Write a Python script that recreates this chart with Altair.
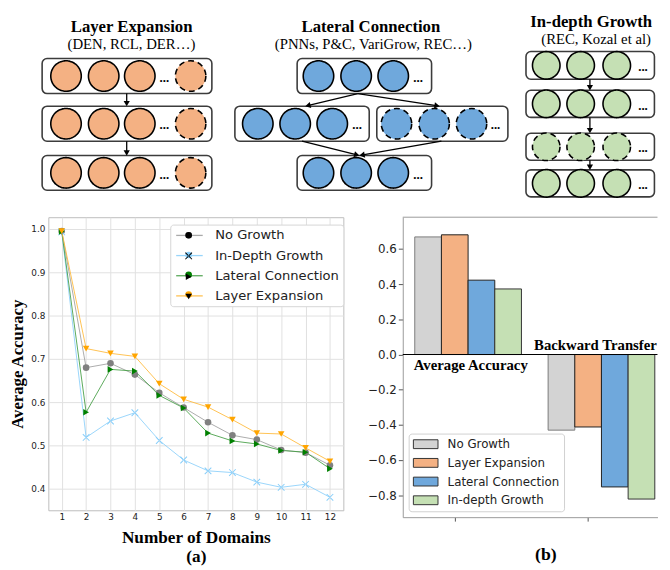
import math
import altair as alt
import pandas as pd

# ================= (a) Average accuracy vs. number of domains =================
domains = list(range(1, 13))
series_names = ["No Growth", "In-Depth Growth", "Lateral Connection", "Layer Expansion"]
acc_no_growth = [0.995, 0.680, 0.690, 0.664, 0.622, 0.588, 0.554, 0.524, 0.514, 0.490, 0.484, 0.455]
acc_in_depth = [0.993, 0.519, 0.557, 0.576, 0.512, 0.467, 0.442, 0.438, 0.416, 0.404, 0.411, 0.381]
acc_lateral = [0.994, 0.577, 0.676, 0.672, 0.616, 0.587, 0.529, 0.511, 0.504, 0.489, 0.485, 0.447]
acc_layer_exp = [0.995, 0.724, 0.713, 0.706, 0.643, 0.607, 0.589, 0.560, 0.529, 0.527, 0.495, 0.464]
y_ticks_a = [0.4, 0.5, 0.6, 0.7, 0.8, 0.9, 1.0]

line_colors = ["#9c9c9c", "#87cefa", "#3d9a3d", "#ffb733"]
marker_colors = ["#808080", "#87cefa", "#008000", "#ffa500"]
X_MARK = ("M-0.894,-1.106L1.106,0.894L0.894,1.106L-1.106,-0.894Z"
          "M-0.894,1.106L1.106,-0.894L0.894,-1.106L-1.106,0.894Z")
marker_shapes = ["circle", X_MARK, "triangle-right", "triangle-down"]

# ================= (b) Average accuracy / backward transfer =================
bar_groups = ["Average Accuracy", "Backward Transfer"]
bar_methods = ["No Growth", "Layer Expansion", "Lateral Connection", "In-depth Growth"]
bar_avg_acc = [0.669, 0.681, 0.423, 0.373]
bar_bwt = [-0.430, -0.412, -0.753, -0.822]
y_ticks_b = [-0.8, -0.6, -0.4, -0.2, 0.0, 0.2, 0.4, 0.6]
bar_colors = ["#d3d3d3", "#f4b183", "#6fa8dc", "#c5e0b4"]
bar_edges = ["#7a7a7a", "#222222", "#222222", "#333333"]
bar_width = 0.2
group_label_x = [0.12, 1.055]
group_label_y = [-0.061, 0.053]

# ================= schematic (top) =================
panel_titles = ["Layer Expansion", "Lateral Connection", "In-depth Growth"]
panel_subtitles = ["(DEN, RCL, DER…)", "(PNNs, P&C, VariGrow, REC…)", "(REC, Kozal et al)"]
panel_fill = ["#f4b183", "#6fa8dc", "#c5e0b4"]
panel_node_diam = [31, 31, 28]
title_x = [131.7, 375, 599]
title_y = [22.5, 22.5, 17]
subtitle_x = [131.5, 377.5, 604]
subtitle_y = [40.5, 40.5, 35]

box_panel = [0, 0, 0, 1, 1, 1, 1, 2, 2, 2, 2]
box_x0 = [40.7, 40.7, 40.7, 300, 236.7, 381, 300, 532.7, 532.7, 532.7, 532.7]
box_x1 = [213.3, 213.3, 213.3, 436.7, 373.3, 514.3, 436.7, 663.3, 663.3, 663.3, 663.3]
box_y0 = [50, 100, 151.7, 50, 100, 100, 151.7, 42.7, 83.3, 128.3, 166.7]
box_y1 = [86.7, 136.7, 188, 86.7, 136.7, 136.7, 188, 71.7, 111.7, 156.7, 195]
box_dashed = [0, 0, 0, 0, 0, 1, 0, 0, 0, 1, 0]
box_nodes_x = [
    [65, 103.3, 140, 191.7], [65, 103.3, 140, 191.7], [65, 103.3, 140, 191.7],
    [321.7, 360, 397.7], [260, 298, 335.7], [401, 439.3, 477.3], [321.7, 360, 397.7],
    [553.3, 588.3, 625], [553.3, 588.3, 625], [553.3, 588.3, 625], [553.3, 588.3, 625],
]
box_nodes_dashed = [
    [0, 0, 0, 1], [0, 0, 0, 1], [0, 0, 0, 1],
    [0, 0, 0], [0, 0, 0], [1, 1, 1], [0, 0, 0],
    [0, 0, 0], [0, 0, 0], [1, 1, 1], [0, 0, 0],
]
box_dots_x = [165, 165, 165, 423, 361, 501.7, 423, 651.7, 651.7, 651.7, 651.7]
arrow_x0 = [126.7, 126.7, 361.7, 361.7, 305, 446.7, 597.7, 597.7, 597.7]
arrow_y0 = [86.7, 136.7, 86.7, 86.7, 136.7, 136.7, 71.7, 111.7, 156.7]
arrow_x1 = [126.7, 126.7, 308.3, 445, 363.3, 363.3, 597.7, 597.7, 597.7]
arrow_y1 = [100, 151.7, 100, 100, 151.7, 151.7, 83.3, 128.3, 166.7]

SERIF = "Liberation Serif"
SANS = "DejaVu Sans"
dash_scale = alt.Scale(domain=["solid", "dashed"], range=[[1, 0], [6, 4]])
NONPOS = ["color", "fill", "stroke", "shape", "size", "strokeDash", "opacity"]

# ---------- schematic tables ----------
df_boxes = pd.DataFrame({
    "x0": box_x0, "x1": box_x1, "y0": box_y0, "y1": box_y1,
    "dash": ["dashed" if d else "solid" for d in box_dashed],
})
node_rows, dot_rows = [], []
for i, p in enumerate(box_panel):
    cy = (box_y0[i] + box_y1[i]) / 2
    for nx, nd in zip(box_nodes_x[i], box_nodes_dashed[i]):
        node_rows.append({"x": nx, "y": cy, "fill": panel_fill[p],
                          "sz": panel_node_diam[p] ** 2,
                          "dash": "dashed" if nd else "solid"})
    dot_rows.append({"x": box_dots_x[i], "y": cy + 6})
df_nodes = pd.DataFrame(node_rows)
df_dots = pd.DataFrame(dot_rows)

arrow_rows = []
for xs, ys, xe, ye in zip(arrow_x0, arrow_y0, arrow_x1, arrow_y1):
    dx, dy = xe - xs, ye - ys
    L = math.hypot(dx, dy)
    ux, uy = dx / L, dy / L
    arrow_rows.append({
        "xs": xs, "ys": ys, "xe": xe - ux * 3.5, "ye": ye - uy * 3.5,
        "hx": xe - ux * 2.7, "hy": ye - uy * 2.7,
        "ang": math.degrees(math.atan2(ux, -uy)) % 360,
    })
df_arrows = pd.DataFrame(arrow_rows)
df_titles = pd.DataFrame({"x": title_x, "y": title_y, "t": panel_titles})
df_subtitles = pd.DataFrame({"x": subtitle_x, "y": subtitle_y, "t": panel_subtitles})

# schematic panel: its origin is aligned with the left edge of plot (a)
D_X0, D_X1 = 47, 670
D_Y0, D_Y1, D_H = 4, 205, 195
dsx = alt.Scale(domain=[D_X0, D_X1], nice=False, zero=False)
dsy = alt.Scale(domain=[D_Y0, D_Y1], nice=False, zero=False, reverse=True)

boxes = alt.Chart(df_boxes).mark_rect(
    cornerRadius=5, fill="white", stroke="#3c3c3c", strokeWidth=1.6
).encode(
    x=alt.X("x0:Q", scale=dsx, axis=None), x2="x1:Q",
    y=alt.Y("y0:Q", scale=dsy, axis=None), y2="y1:Q",
    strokeDash=alt.StrokeDash("dash:N", scale=dash_scale, legend=None),
)
arrow_lines = alt.Chart(df_arrows).mark_rule(color="black", strokeWidth=1.3).encode(
    x=alt.X("xs:Q", scale=dsx, axis=None), y=alt.Y("ys:Q", scale=dsy, axis=None),
    x2="xe:Q", y2="ye:Q",
)
arrow_heads = alt.Chart(df_arrows).mark_point(
    shape="triangle-up", filled=True, color="black", size=40, opacity=1
).encode(
    x=alt.X("hx:Q", scale=dsx, axis=None), y=alt.Y("hy:Q", scale=dsy, axis=None),
    angle=alt.Angle("ang:Q", scale=None),
)
nodes = alt.Chart(df_nodes).mark_point(
    shape="circle", filled=True, stroke="black", strokeWidth=1.6, opacity=1
).encode(
    x=alt.X("x:Q", scale=dsx, axis=None), y=alt.Y("y:Q", scale=dsy, axis=None),
    fill=alt.Fill("fill:N", scale=None, legend=None),
    size=alt.Size("sz:Q", scale=None, legend=None),
    strokeDash=alt.StrokeDash("dash:N", scale=dash_scale, legend=None),
)
dots = alt.Chart(df_dots).mark_text(
    text="...", font=SERIF, fontWeight="bold", fontSize=13, baseline="alphabetic", color="black"
).encode(x=alt.X("x:Q", scale=dsx, axis=None), y=alt.Y("y:Q", scale=dsy, axis=None))
titles = alt.Chart(df_titles).mark_text(
    font=SERIF, fontWeight="bold", fontSize=17, baseline="alphabetic", color="black"
).encode(x=alt.X("x:Q", scale=dsx, axis=None), y=alt.Y("y:Q", scale=dsy, axis=None), text="t:N")
subtitles = alt.Chart(df_subtitles).mark_text(
    font=SERIF, fontSize=15, baseline="alphabetic", color="black"
).encode(x=alt.X("x:Q", scale=dsx, axis=None), y=alt.Y("y:Q", scale=dsy, axis=None), text="t:N")

diagram = alt.layer(boxes, arrow_lines, arrow_heads, nodes, dots, titles, subtitles).properties(
    width=D_X1 - D_X0, height=D_H, view=alt.ViewBackground(stroke="transparent")
)

# ---------- (a) line chart ----------
rows = []
for name, vals in zip(series_names, [acc_no_growth, acc_in_depth, acc_lateral, acc_layer_exp]):
    for d, v in zip(domains, vals):
        rows.append({"domain": d, "acc": v, "series": name, "series_m": name})
df_a = pd.DataFrame(rows)

A_W, A_H = 300, 298
xa = alt.X(
    "domain:Q",
    scale=alt.Scale(domain=[0.45, 12.55], nice=False, zero=False),
    axis=alt.Axis(
        values=domains, format="d", grid=True, gridColor="#e0e0e0", ticks=False, tickSize=0,
        domain=False, labelFont=SANS, labelFontSize=9, labelColor="#222", labelPadding=2.5,
        labelFlush=False, title=["Number of Domains", "(a)"], titleFont=SERIF,
        titleFontWeight="bold", titleFontSize=17.5, titleColor="black", titlePadding=7,
        titleLineHeight=20,
    ),
)
ya = alt.Y(
    "acc:Q",
    scale=alt.Scale(domain=[0.351, 1.027], nice=False, zero=False),
    axis=alt.Axis(
        values=y_ticks_a, format=".1f", grid=True, gridColor="#e0e0e0", ticks=False, tickSize=0,
        domain=False, labelFont=SANS, labelFontSize=9, labelColor="#222", labelPadding=3.5,
        labelFlush=False, title="Average Accuracy", titleFont=SERIF, titleFontWeight="bold",
        titleFontSize=17, titleColor="black", titlePadding=4.2,
    ),
)
# line-segment legend (carries the labels and the box)
leg_lines = alt.Legend(
    title=None, orient="none", legendX=124, legendY=7.5,
    symbolType="M-0.833,0L3.667,0", symbolSize=144, symbolStrokeWidth=1.3,
    labelFont=SANS, labelFontSize=13.3, labelColor="#222", labelOffset=27.7,
    rowPadding=6.5, padding=4, fillColor="white", strokeColor="#d5d5d5",
    cornerRadius=3, zindex=1,
)
# marker legend drawn on top of the line segments (no labels of its own)
leg_marks = alt.Legend(
    title=None, orient="none", legendX=135.2, legendY=10.8, symbolSize=45,
    symbolStrokeWidth=0, symbolOpacity=1, labelExpr="''", labelFontSize=1,
    labelOffset=0, rowPadding=13.1, padding=4, zindex=2,
)
lines = alt.Chart(df_a).mark_line(strokeWidth=1, opacity=0.85).encode(
    x=xa, y=ya,
    stroke=alt.Stroke("series:N", sort=series_names, scale=alt.Scale(range=line_colors), legend=leg_lines),
)
points = alt.Chart(df_a).mark_point(filled=True, size=45, opacity=1).encode(
    x=xa, y=ya,
    color=alt.Color("series_m:N", sort=series_names, scale=alt.Scale(range=marker_colors), legend=leg_marks),
    shape=alt.Shape("series_m:N", sort=series_names, scale=alt.Scale(range=marker_shapes), legend=leg_marks),
)
line_chart = alt.layer(lines, points).properties(
    width=A_W, height=A_H, view=alt.ViewBackground(stroke="#bdbdbd", strokeWidth=1)
)

# ---------- (b) bar chart ----------
bar_rows = []
for gi, (g, vals) in enumerate(zip(bar_groups, [bar_avg_acc, bar_bwt])):
    for mj, (m, v) in enumerate(zip(bar_methods, vals)):
        x0 = gi + bar_width * mj - 1.5 * bar_width
        bar_rows.append({"group": g, "method": m, "val": v, "base": 0.0,
                         "x0": x0, "x1": x0 + bar_width, "edge": bar_edges[mj]})
df_b = pd.DataFrame(bar_rows)
df_lbl = pd.DataFrame({"tx": group_label_x, "ty": group_label_y, "label": bar_groups})

B_W, B_H = 259, 305
xb_scale = alt.Scale(domain=[-0.39, 1.52], nice=False, zero=False)
yb_scale = alt.Scale(domain=[-0.925, 0.781], nice=False, zero=False)
bars = alt.Chart(df_b).mark_bar(strokeWidth=1).encode(
    x=alt.X("x0:Q", scale=xb_scale, axis=alt.Axis(
        values=[0, 1], labels=False, tickSize=4, tickColor="#555", domainColor="#999",
        grid=False, title="(b)", titleFont=SERIF, titleFontWeight="bold", titleFontSize=18,
        titleColor="black", titlePadding=25, titleX=145, titleAlign="center")),
    x2="x1:Q",
    y=alt.Y("val:Q", scale=yb_scale, axis=alt.Axis(
        values=y_ticks_b, format=".1f", grid=False, tickSize=4.5, tickColor="#555",
        domainColor="#999", labelFont=SANS, labelFontSize=12, labelColor="#222",
        labelPadding=2, labelFlush=False, title=None)),
    y2="base:Q",
    fill=alt.Fill("method:N", sort=bar_methods, scale=alt.Scale(domain=bar_methods, range=bar_colors),
                  legend=alt.Legend(
                      title=None, orient="bottom-left", offset=6, padding=4.3,
                      symbolType="M-1,-0.75L3.17,-0.75L3.17,0.75L-1,0.75Z", symbolSize=144,
                      symbolStrokeColor="#333", symbolStrokeWidth=1, labelFont=SANS,
                      labelFontSize=12, labelColor="#222", labelOffset=22.3, rowPadding=6,
                      fillColor="white", strokeColor="#d0d0d0", cornerRadius=3)),
    stroke=alt.Stroke("edge:N", scale=None, legend=None),
)
zero_line = alt.Chart(pd.DataFrame({"zero": [0.0]})).mark_rule(color="black", strokeWidth=1.2).encode(
    y=alt.Y("zero:Q", scale=yb_scale)
)
top_spine = alt.Chart(pd.DataFrame({"zero": [0.0]})).mark_rule(color="#999", strokeWidth=1).encode(
    x=alt.value(0), x2=alt.value(B_W), y=alt.value(0)
)
group_labels = alt.Chart(df_lbl).mark_text(
    font=SERIF, fontWeight="bold", fontSize=15, baseline="middle", align="center", color="black"
).encode(x=alt.X("tx:Q", scale=xb_scale), y=alt.Y("ty:Q", scale=yb_scale), text="label:N")

bar_chart = alt.layer(bars, zero_line, top_spine, group_labels).properties(
    width=B_W, height=B_H, view=alt.ViewBackground(stroke="transparent")
)

bottom = alt.hconcat(line_chart, bar_chart, spacing=22.4).resolve_scale(
    **{c: "independent" for c in NONPOS}
).resolve_legend(**{c: "independent" for c in NONPOS})
chart = alt.vconcat(diagram, bottom, spacing=9, padding=0).resolve_scale(
    **{c: "independent" for c in NONPOS}
).resolve_legend(**{c: "independent" for c in NONPOS}).configure(
    font=SANS, background="white"
)

chart.save("out.html", embed_options={"renderer": "svg", "actions": False})
